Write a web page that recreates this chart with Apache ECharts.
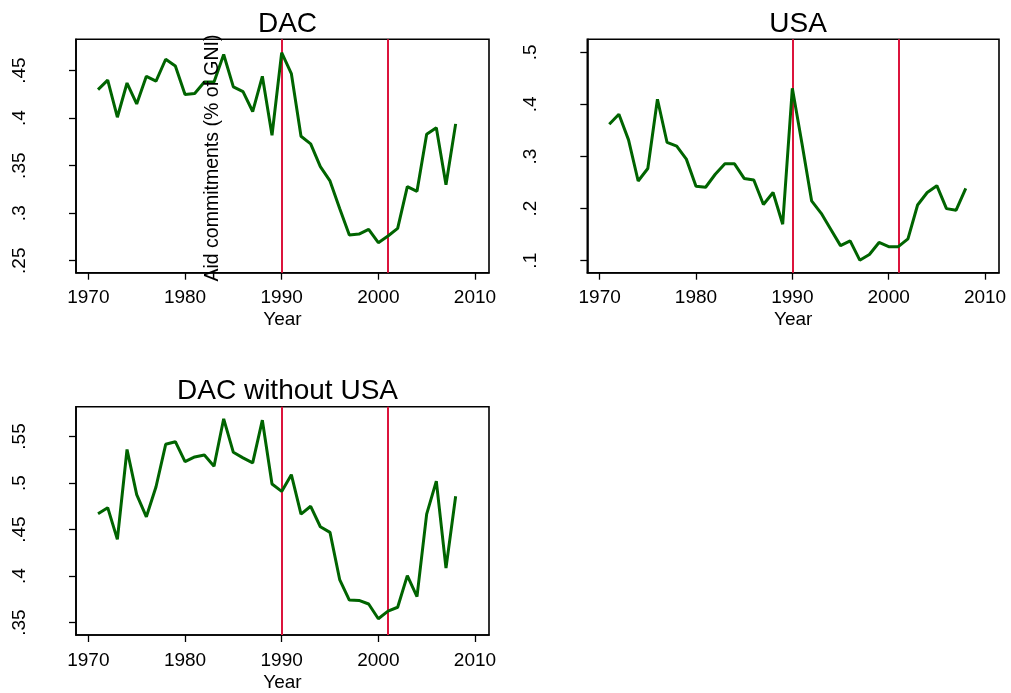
<!DOCTYPE html>
<html>
<head>
<meta charset="utf-8">
<script src="https://cdn.jsdelivr.net/npm/echarts@6/dist/echarts.min.js"></script>
<style>
    html, body {margin: 0; padding: 0; background: #fff;}
    #chart {width: 1011px; height: 693px;}
</style>
</head>
<body>
<div id="chart"></div>
<script>
// years 1971-2008
const years = [1971, 1972, 1973, 1974, 1975, 1976, 1977, 1978, 1979, 1980,
    1981, 1982, 1983, 1984, 1985, 1986, 1987, 1988, 1989, 1990,
    1991, 1992, 1993, 1994, 1995, 1996, 1997, 1998, 1999, 2000,
    2001, 2002, 2003, 2004, 2005, 2006, 2007, 2008];

const dac = [0.430, 0.440, 0.401, 0.437, 0.415, 0.444, 0.439, 0.462, 0.455, 0.425,
    0.426, 0.438, 0.438, 0.467, 0.433, 0.428, 0.407, 0.444, 0.382, 0.469,
    0.447, 0.381, 0.373, 0.349, 0.334, 0.305, 0.277, 0.278, 0.283, 0.269,
    0.276, 0.284, 0.328, 0.323, 0.383, 0.390, 0.330, 0.394];

const usa = [0.362, 0.381, 0.332, 0.253, 0.277, 0.410, 0.327, 0.320, 0.295, 0.243,
    0.241, 0.266, 0.286, 0.286, 0.258, 0.255, 0.208, 0.231, 0.170, 0.431,
    0.325, 0.215, 0.191, 0.160, 0.129, 0.138, 0.101, 0.112, 0.135, 0.127,
    0.127, 0.142, 0.207, 0.231, 0.244, 0.200, 0.197, 0.239];

const dacNoUsa = [0.467, 0.4735, 0.4395, 0.536, 0.4875, 0.4637, 0.496, 0.5416, 0.5444, 0.523,
    0.528, 0.530, 0.518, 0.569, 0.533, 0.527, 0.5216, 0.5675, 0.499, 0.491,
    0.509, 0.4665, 0.475, 0.453, 0.447, 0.3963, 0.3742, 0.3739, 0.370, 0.3542,
    0.3623, 0.3665, 0.4005, 0.378, 0.4665, 0.502, 0.4086, 0.4858];

const breakYears = [1990, 2001];
const xTicks = [1970, 1980, 1990, 2000, 2010];
const dacTicks = [0.25, 0.3, 0.35, 0.4, 0.45];
const usaTicks = [0.1, 0.2, 0.3, 0.4, 0.5];
const dacNoUsaTicks = [0.35, 0.4, 0.45, 0.5, 0.55];

const font = 'Liberation Sans, Arial, sans-serif';
const green = '#006400';
const red = '#dc143c';

const panels = [
    {title: 'DAC', data: dac, ticks: dacTicks, min: 0.2374, max: 0.483,
        left: 76, top: 39.3, width: 413, height: 233.4},
    {title: 'USA', data: usa, ticks: usaTicks, min: 0.077, max: 0.525,
        left: 587.3, top: 39.3, width: 411.7, height: 233.4},
    {title: 'DAC without USA', data: dacNoUsa, ticks: dacNoUsaTicks, min: 0.3367, max: 0.582,
        left: 76, top: 406.7, width: 413, height: 233.3},
];

const chart = echarts.init(document.getElementById('chart'));

const option = {
    animation: false,
    backgroundColor: '#fff',
    textStyle: {fontFamily: font},
    title: panels.map(p => ({
        text: p.title,
        left: p.left + p.width / 2,
        top: p.top - 34,
        textAlign: 'center',
        textStyle: {fontFamily: font, fontSize: 28, fontWeight: 'normal', color: '#000'},
    })),
    grid: panels.map(p => ({
        left: p.left, top: p.top, width: p.width, height: p.height,
        show: true, borderColor: '#000', borderWidth: 1.6, backgroundColor: '#fff',
    })),
    xAxis: panels.map((p, i) => ({
        type: 'value', gridIndex: i, min: 1968.72, max: 2011.45,
        name: 'Year', nameLocation: 'middle', nameGap: 38,
        nameTextStyle: {fontFamily: font, fontSize: 19, color: '#000'},
        axisLine: {show: true, onZero: false, lineStyle: {color: '#000', width: 1.6}},
        axisTick: {show: true, length: 7, customValues: xTicks, lineStyle: {color: '#000', width: 1.3}},
        axisLabel: {customValues: xTicks, margin: 16, fontFamily: font, fontSize: 19, color: '#000',
            formatter: v => String(v)},
        splitLine: {show: false},
    })),
    yAxis: panels.map((p, i) => ({
        type: 'value', gridIndex: i, min: p.min, max: p.max,
        axisLine: {show: true, onZero: false, lineStyle: {color: '#000', width: 1.6}},
        axisTick: {show: true, length: 7, customValues: p.ticks, lineStyle: {color: '#000', width: 1.3}},
        axisLabel: {customValues: p.ticks, rotate: 90, margin: 47, fontFamily: font, fontSize: 19, color: '#000',
            formatter: v => String(Math.round(v * 100) / 100).replace(/^0/, '')},
        splitLine: {show: false},
    })),
    series: panels.map((p, i) => ({
        type: 'line', xAxisIndex: i, yAxisIndex: i,
        data: years.map((y, k) => [y, p.data[k]]),
        showSymbol: false, symbol: 'none',
        lineStyle: {color: green, width: 3},
        z: 3,
        markLine: {
            silent: true, symbol: 'none', label: {show: false},
            lineStyle: {color: red, width: 2, type: 'solid'},
            z: 2,
            data: breakYears.map(y => ({xAxis: y})),
        },
    })),
    graphic: [{
        type: 'text',
        x: 213, y: 158,
        rotation: Math.PI / 2,
        z: 100,
        style: {
            text: 'Aid commitments (% of GNI)',
            font: '19.5px ' + font,
            fill: '#000',
            align: 'center',
            verticalAlign: 'middle',
        },
    }],
};

chart.setOption(option);
</script>
</body>
</html>
